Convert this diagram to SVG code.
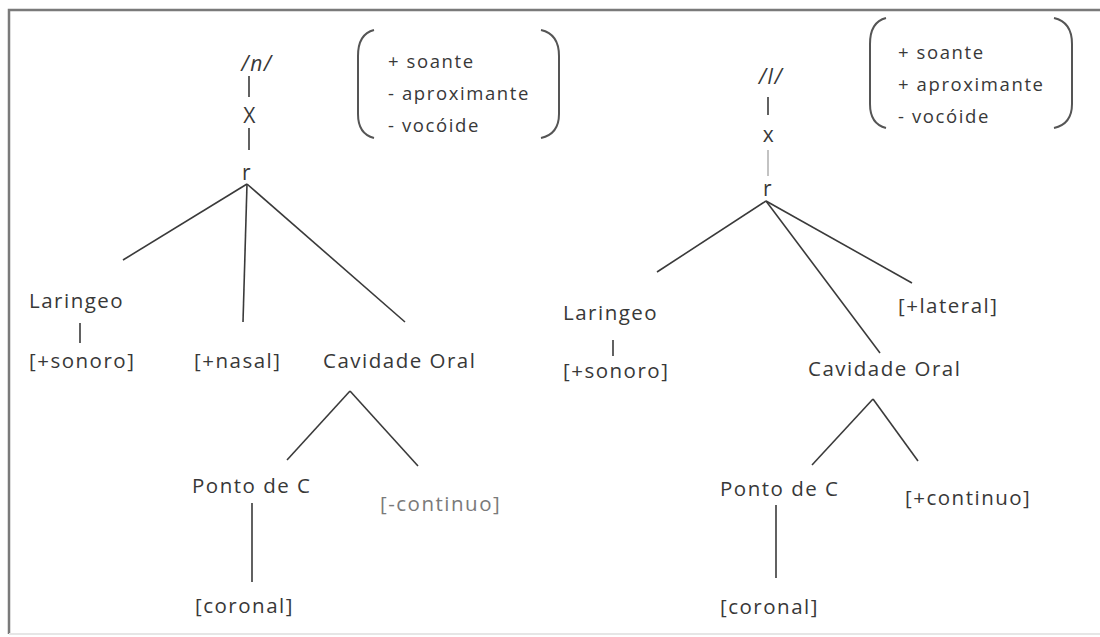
<svg xmlns="http://www.w3.org/2000/svg" width="1100" height="637" viewBox="0 0 1100 637">
  <style>
    text { font-family: "Open Sans", Lato, "Liberation Sans", sans-serif; fill: #383838; }
    .lbl { font-size: 20.5px; letter-spacing: 1.5px; }
    .feat { font-size: 18.5px; letter-spacing: 1.6px; }
    .sym { font-size: 21px; text-anchor: middle; letter-spacing: 1.5px; }
    .edge { stroke: #3a3a3a; stroke-width: 1.6; fill: none; }
    .faint { stroke: #aaa; stroke-width: 1.4; fill: none; }
    .paren { stroke: #555; stroke-width: 2; fill: none; }
    .frame { stroke: #7a7a7a; stroke-width: 2.5; fill: none; }
  </style>
  <rect width="1100" height="637" fill="#fff"/>

  <!-- frame -->
  <g id="frame">
    <path class="frame" d="M 9 634 L 9 10 L 1100 10"/>
    <path d="M 9 634 L 1100 634" stroke="#e6e6e6" stroke-width="2"/>
  </g>

  <!-- connectors -->
  <g id="connectors">
    <!-- left tree: /n/ -->
    <line class="edge" x1="249" y1="76" x2="249" y2="97"/>
    <line class="edge" x1="249" y1="128" x2="249" y2="150"/>
    <line class="edge" x1="247" y1="184" x2="123" y2="260"/>
    <line class="edge" x1="247" y1="184" x2="243" y2="322"/>
    <line class="edge" x1="247" y1="184" x2="405" y2="322"/>
    <line class="edge" x1="80" y1="323" x2="80" y2="343"/>
    <line class="edge" x1="350" y1="391" x2="287" y2="460"/>
    <line class="edge" x1="350" y1="391" x2="418" y2="466"/>
    <line class="edge" x1="252" y1="503" x2="252" y2="582"/>
    <!-- right tree: /l/ -->
    <line class="edge" x1="768" y1="97" x2="768" y2="115"/>
    <line class="faint" x1="768" y1="150" x2="768" y2="176"/>
    <line class="edge" x1="766" y1="201" x2="657" y2="272"/>
    <line class="edge" x1="766" y1="201" x2="880" y2="353"/>
    <line class="edge" x1="766" y1="201" x2="912" y2="283"/>
    <line class="edge" x1="613" y1="340" x2="613" y2="356"/>
    <line class="edge" x1="873" y1="399" x2="812" y2="465"/>
    <line class="edge" x1="873" y1="399" x2="918" y2="461"/>
    <line class="edge" x1="776" y1="505" x2="776" y2="578"/>
  </g>

  <!-- feature matrix of /n/ -->
  <g id="matrix-n">
    <path class="paren" d="M 374 30 Q 358 34 358 56 L 358 114 Q 358 134 374 138"/>
    <path class="paren" d="M 541 30 Q 559 34 559 56 L 559 114 Q 559 134 541 138"/>
    <text class="feat" x="388" y="68">+ soante</text>
    <text class="feat" x="388" y="100">- aproximante</text>
    <text class="feat" x="388" y="132">- vocóide</text>
  </g>

  <!-- feature matrix of /l/ -->
  <g id="matrix-l">
    <path class="paren" d="M 886 18 Q 870 22 870 44 L 870 104 Q 870 124 886 128"/>
    <path class="paren" d="M 1054 18 Q 1072 22 1072 44 L 1072 104 Q 1072 124 1054 128"/>
    <text class="feat" x="898" y="59">+ soante</text>
    <text class="feat" x="898" y="91">+ aproximante</text>
    <text class="feat" x="898" y="123">- vocóide</text>
  </g>

  <!-- tree of /n/ -->
  <g id="n-segment"><text class="sym" x="257" y="71" font-style="italic">/n/</text></g>
  <g id="n-x"><text class="sym" x="250" y="123">X</text></g>
  <g id="n-root"><text class="sym" x="247" y="180">r</text></g>
  <g id="n-laringeo"><text class="lbl" x="29" y="308">Laringeo</text></g>
  <g id="n-sonoro"><text class="lbl" x="29" y="368">[+sonoro]</text></g>
  <g id="n-nasal"><text class="lbl" x="194" y="368">[+nasal]</text></g>
  <g id="n-cavidade"><text class="lbl" x="323" y="368">Cavidade Oral</text></g>
  <g id="n-ponto"><text class="lbl" x="192" y="493">Ponto de C</text></g>
  <g id="n-continuo"><text class="lbl" x="380" y="511" style="fill:#7a7a7a">[-continuo]</text></g>
  <g id="n-coronal"><text class="lbl" x="195" y="613">[coronal]</text></g>

  <!-- tree of /l/ -->
  <g id="l-segment"><text class="sym" x="771" y="84" font-style="italic">/l/</text></g>
  <g id="l-x"><text class="sym" x="769" y="142" font-size="17">x</text></g>
  <g id="l-root"><text class="sym" x="768" y="196" font-size="17">r</text></g>
  <g id="l-laringeo"><text class="lbl" x="563" y="320">Laringeo</text></g>
  <g id="l-sonoro"><text class="lbl" x="563" y="378">[+sonoro]</text></g>
  <g id="l-lateral"><text class="lbl" x="898" y="313">[+lateral]</text></g>
  <g id="l-cavidade"><text class="lbl" x="808" y="376">Cavidade Oral</text></g>
  <g id="l-ponto"><text class="lbl" x="720" y="496">Ponto de C</text></g>
  <g id="l-continuo"><text class="lbl" x="905" y="505">[+continuo]</text></g>
  <g id="l-coronal"><text class="lbl" x="720" y="614">[coronal]</text></g>
</svg>
